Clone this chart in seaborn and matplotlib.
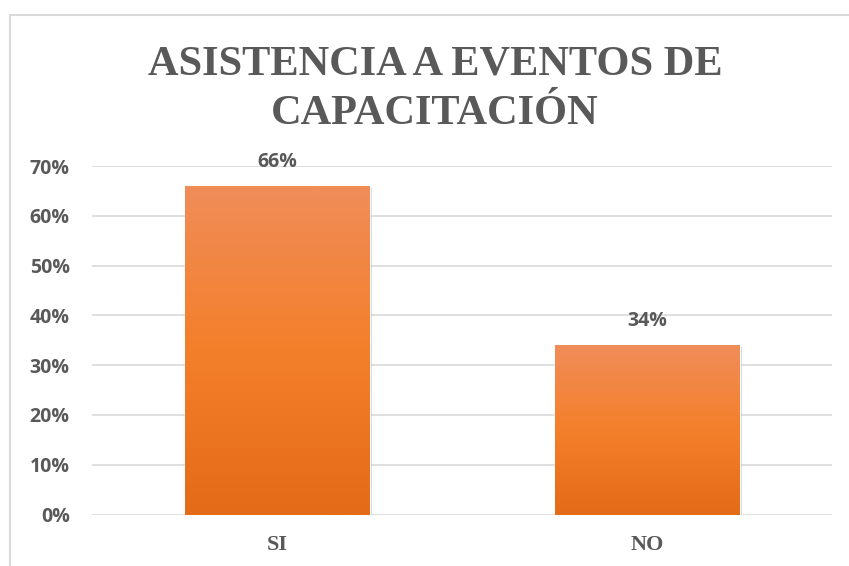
import matplotlib
matplotlib.use('Agg')
import matplotlib.pyplot as plt
import seaborn as sns
import numpy as np
import pandas as pd
from matplotlib.colors import LinearSegmentedColormap
from matplotlib.lines import Line2D
import matplotlib.patheffects as pe

# Data
categories = ['SI', 'NO']
values = [0.66, 0.34]
y_ticks = [0.0, 0.1, 0.2, 0.3, 0.4, 0.5, 0.6, 0.7]

TEXT_GRAY = '#595959'
GRID_GRAY = '#d9d9d9'
SANS = ['Open Sans', 'DejaVu Sans']
SERIF = ['Liberation Serif', 'DejaVu Serif']

sns.set_style('white')
plt.rcParams['font.family'] = SANS

fig = plt.figure(figsize=(8.49, 5.66), dpi=100)
ax = fig.add_axes([92 / 849, 1 - 514.5 / 566, (832 - 92) / 849, (514.5 - 166) / 566])

df = pd.DataFrame({'cat': categories, 'val': values})
sns.barplot(data=df, x='cat', y='val', color='#F47F2A', width=0.5,
            saturation=1, ax=ax, zorder=2)

# vertical gradient fill like the Excel bars, plus a soft shadow
grad = LinearSegmentedColormap.from_list('bar', ['#E46B18', '#F47F2A', '#F08D59'])
for patch in ax.patches:
    patch.set_path_effects([pe.SimplePatchShadow(offset=(1.5, -1.5), alpha=0.25,
                                                 shadow_rgbFace='#555555'),
                            pe.Normal()])
    x0, y0 = patch.get_x(), patch.get_y()
    w, h = patch.get_width(), patch.get_height()
    img = ax.imshow(np.linspace(0, 1, 256).reshape(-1, 1), cmap=grad,
                    origin='lower', extent=[x0, x0 + w, y0, y0 + h],
                    aspect='auto', zorder=3)
    img.set_clip_path(patch)

ax.set_xlim(-0.5, len(categories) - 0.5)
ax.set_ylim(0, 0.7)
ax.set_yticks(y_ticks)
ax.set_yticklabels([f'{t:.0%}' for t in y_ticks], fontweight='bold', fontsize=14,
                   family=SANS)
ax.yaxis.grid(True, color=GRID_GRAY, linewidth=1.2)
ax.set_axisbelow(True)
sns.despine(ax=ax, left=True, bottom=True)
ax.set_xlabel('')
ax.set_ylabel('')

ax.tick_params(axis='y', length=0, pad=16, labelcolor=TEXT_GRAY)
ax.tick_params(axis='x', length=0, pad=15, labelcolor=TEXT_GRAY)
ax.set_xticks(range(len(categories)))
ax.set_xticklabels(categories, family=SERIF, fontweight='bold', fontsize=16)

ax.bar_label(ax.containers[0], labels=[f'{v:.0%}' for v in values],
             padding=10, fontsize=14, fontweight='bold', color=TEXT_GRAY,
             family=SANS)

# title
fig.text(0.5124, 1 - 89 / 566, 'ASISTENCIA A EVENTOS DE\nCAPACITACIÓN',
         ha='center', va='center', fontsize=30.5, fontweight='bold',
         color=TEXT_GRAY, family=SERIF, linespacing=1.38)

# chart frame (left and top edges visible in the crop)
fig.add_artist(Line2D([10 / 849, 10 / 849], [0, 1 - 15 / 566],
                      color=GRID_GRAY, linewidth=1.5, transform=fig.transFigure))
fig.add_artist(Line2D([10 / 849, 1], [1 - 15 / 566, 1 - 15 / 566],
                      color=GRID_GRAY, linewidth=1.5, transform=fig.transFigure))

fig.savefig('out.png', dpi=100)
